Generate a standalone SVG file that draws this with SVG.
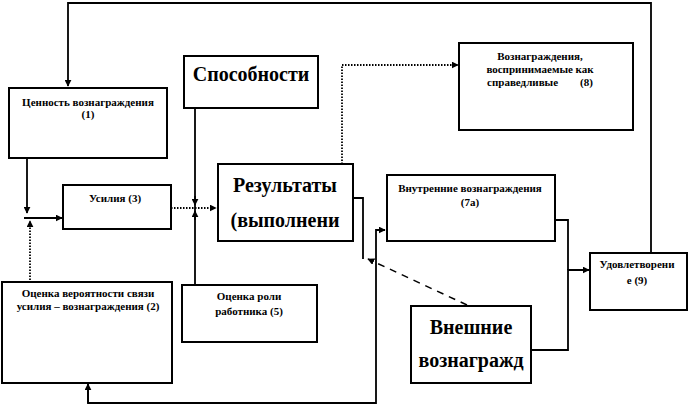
<svg xmlns="http://www.w3.org/2000/svg" width="690" height="406" viewBox="0 0 690 406">
<style>
.box{fill:#fff;stroke:#000;stroke-width:2}
.t{font-family:"Liberation Serif","DejaVu Serif",serif;font-weight:bold;font-size:11px;fill:#000;text-anchor:middle}
.b{font-family:"Liberation Serif","DejaVu Serif",serif;font-weight:bold;font-size:20px;fill:#000;text-anchor:middle}
.c{fill:none;stroke:#000;stroke-width:1.8}
.dot{stroke-dasharray:1.5 1.5}
.dash{stroke-dasharray:7 6;stroke-width:1.5}
</style>
<defs>
<marker id="a" viewBox="0 0 10 10" refX="9" refY="5" markerWidth="7" markerHeight="7" markerUnits="userSpaceOnUse" orient="auto">
<path d="M0,0 L10,5 L0,10 z" fill="#000"/>
</marker>
</defs>
<g id="connectors">
<polyline class="c" points="651,252 651,3 68,3 68,86" marker-end="url(#a)"/>
<polyline class="c" points="27,158 27,213" marker-end="url(#a)"/>
<polyline class="c" points="24,218 62,218" marker-end="url(#a)"/>
<polyline class="c dot" points="30,280 30,221" marker-end="url(#a)"/>
<polyline class="c dot" points="171,208 216,208" marker-end="url(#a)"/>
<polyline class="c" points="195,108 195,285"/>
<polyline class="c" points="195,196 195,205" marker-end="url(#a)"/>
<polyline class="c" points="195,220 195,211" marker-end="url(#a)"/>
<polyline class="c dot" points="342,164 342,65 458,65" marker-end="url(#a)"/>
<polyline class="c" points="353,198 363,198 363,259"/>
<line class="c dash" x1="467" y1="305" x2="368" y2="259" marker-end="url(#a)"/>
<polyline class="c" points="88,383 88,403 376,403 376,230 385,230" marker-end="url(#a)"/>
<polyline class="c" points="88,403 88,384" marker-end="url(#a)"/>
<polyline class="c" points="555,220 568,220 568,270"/>
<polyline class="c" points="531,350 568,350 568,270 589,270" marker-end="url(#a)"/>
</g>
<g id="n1"><rect class="box" x="9" y="88" width="158" height="70"/>
<text class="t" x="88" y="106">Ценность вознаграждения</text><text class="t" x="88" y="118">(1)</text></g>
<g id="n3"><rect class="box" x="63" y="185" width="108" height="44"/>
<text class="t" x="115" y="202">Усилия (3)</text></g>
<g id="n2"><rect class="box" x="2" y="282" width="170" height="101"/>
<text class="t" x="88" y="297">Оценка вероятности связи</text><text class="t" x="88" y="310">усилия – вознаграждения (2)</text></g>
<g id="n4"><rect class="box" x="184" y="56" width="134" height="52"/>
<text class="b" x="251" y="81">Способности</text></g>
<g id="n5"><rect class="box" x="182" y="285" width="135" height="57"/>
<text class="t" x="249" y="300">Оценка роли</text><text class="t" x="249" y="315">работника (5)</text></g>
<g id="n6"><rect class="box" x="218" y="164" width="135" height="77"/>
<text class="b" x="285" y="192">Результаты</text><text class="b" x="285" y="227">(выполнени</text></g>
<g id="n8"><rect class="box" x="459" y="43" width="174" height="87"/>
<text class="t" x="540" y="60">Вознаграждения,</text><text class="t" x="540" y="73">воспринимаемые как</text><text class="t" x="540" y="86" xml:space="preserve">справедливые        (8)</text></g>
<g id="n7a"><rect class="box" x="387" y="175" width="168" height="66"/>
<text class="t" x="470" y="192">Внутренние вознаграждения</text><text class="t" x="470" y="206">(7а)</text></g>
<g id="n7b"><rect class="box" x="411" y="306" width="120" height="77"/>
<text class="b" x="471" y="334">Внешние</text><text class="b" x="471" y="367">вознагражд</text></g>
<g id="n9"><rect class="box" x="590" y="253" width="97" height="57"/>
<text class="t" x="637" y="268">Удовлетворени</text><text class="t" x="637" y="284">е (9)</text></g>
</svg>
